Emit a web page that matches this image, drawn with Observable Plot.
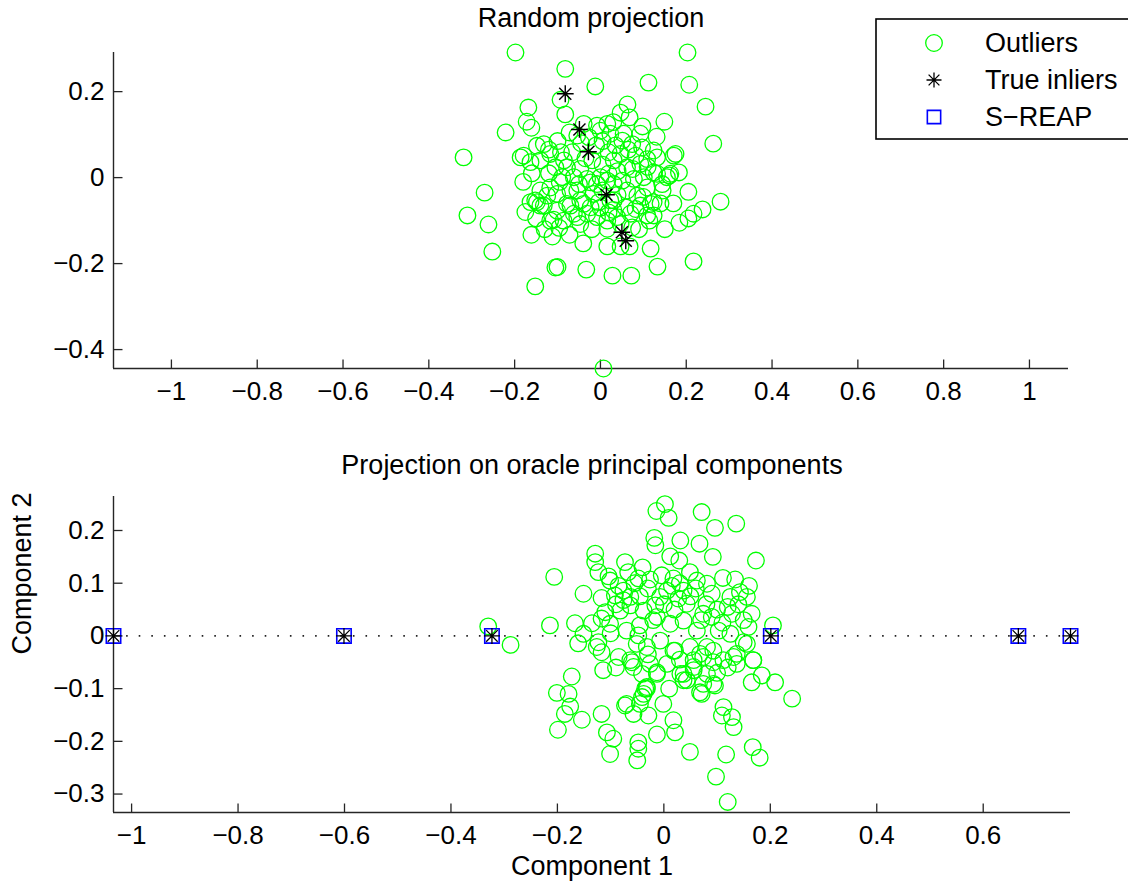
<!DOCTYPE html>
<html><head><meta charset="utf-8">
<script src="https://cdn.jsdelivr.net/npm/d3@7"></script>
<script src="https://cdn.jsdelivr.net/npm/@observablehq/plot@0.6"></script>
<style>
body{margin:0;background:#fff;}
#fig{position:relative;width:1128px;height:882px;overflow:hidden;background:#fff;font-family:"Liberation Sans",Arial,Helvetica,sans-serif;}
#fig svg{position:absolute;left:0;overflow:visible;}
</style></head><body><div id="fig"></div>
<script>
// ---------- Top panel: Random projection ----------
const topTitle = "Random projection";
const topXDomain = [-1.135, 1.091];
const topYDomain = [-0.444, 0.291];
const topXTicks = [-1, -0.8, -0.6, -0.4, -0.2, 0, 0.2, 0.4, 0.6, 0.8, 1];
const topYTicks = [-0.4, -0.2, 0, 0.2];
const topInliers = [[-0.082,0.195],[-0.049,0.112],[-0.028,0.060],[0.014,-0.040],[0.050,-0.127],[0.059,-0.147]];
const topOutliers = [
[-0.198,0.291],[0.203,0.291],[-0.082,0.253],[0.112,0.221],[0.207,0.216],[-0.012,0.212],[-0.093,0.181],[0.245,0.165],
[-0.168,0.163],[-0.082,0.147],[0.063,0.170],[0.047,0.151],[0.068,0.140],[0.149,0.130],[-0.172,0.130],[-0.161,0.116],
[-0.221,0.105],[0.098,0.119],[0.093,0.102],[0.131,0.095],[0.263,0.079],[-0.319,0.047],[-0.270,-0.035],[-0.310,-0.088],
[-0.261,-0.109],[-0.252,-0.172],[-0.161,-0.133],[-0.112,-0.137],[-0.072,-0.133],[-0.040,-0.153],[-0.105,-0.209],[-0.100,-0.208],
[-0.033,-0.214],[0.028,-0.228],[0.072,-0.228],[0.133,-0.207],[0.217,-0.195],[0.117,-0.165],[-0.152,-0.253],[0.007,-0.444],
[0.280,-0.056],[0.238,-0.074],[0.217,-0.084],[0.205,-0.095],[0.184,-0.105],[0.205,-0.033],[0.145,-0.030],[0.124,-0.088],
[0.114,-0.100],[0.016,-0.160],[0.047,-0.160],[0.068,-0.160],
[-0.039,0.125],[-0.008,0.121],[0.016,0.125],[0.030,0.129],[0.000,0.109],[-0.072,0.105],[-0.054,0.098],[-0.027,0.094],
[0.023,0.102],[0.054,0.102],[0.051,0.086],[0.074,0.078],[0.097,0.070],[0.124,0.063],[0.132,0.047],[0.175,0.055],
[0.109,0.043],[0.082,0.051],[0.019,0.059],[0.047,0.055],[-0.066,0.059],[-0.092,0.059],[-0.117,0.055],[-0.132,0.078],
[-0.148,0.074],[-0.179,0.051],[-0.186,0.047],[-0.163,0.036],[-0.120,0.065],[-0.140,0.040],[-0.105,0.024],[-0.078,0.024],
[-0.047,0.020],[-0.019,0.040],[0.031,0.040],[0.062,0.024],[0.093,0.032],[0.124,0.012],[0.163,0.009],[0.183,0.012],
[0.000,0.001],[0.019,0.009],[-0.008,-0.015],[0.031,-0.015],[0.051,-0.007],[0.078,-0.003],[0.101,0.001],[-0.031,-0.003],
[-0.062,0.001],[-0.089,0.001],[-0.117,-0.023],[-0.140,-0.030],[-0.152,-0.053],[-0.163,-0.057],[-0.132,-0.065],[-0.101,-0.038],
[-0.070,-0.030],[-0.047,-0.053],[-0.070,-0.065],[-0.016,-0.038],[-0.004,-0.057],[0.023,-0.053],[0.062,-0.030],[0.086,-0.042],
[0.109,-0.023],[0.144,-0.015],[0.155,0.001],[0.124,-0.057],[0.093,-0.065],[0.058,-0.069],[-0.101,-0.077],[-0.117,-0.100],
[-0.086,-0.100],[-0.054,-0.092],[-0.031,-0.084],[-0.008,-0.092],[0.016,-0.100],[0.039,-0.092],[0.070,-0.084],[0.109,-0.088],
[-0.023,-0.069],[-0.047,-0.108],[0.016,-0.119],[0.047,-0.108],[0.074,-0.116],
[0.117,-0.061],[0.082,-0.073],[0.019,-0.081],[-0.062,-0.084],[-0.078,-0.061],[-0.096,-0.117],[-0.109,-0.098],[-0.124,-0.042],
[-0.054,-0.030],[-0.039,-0.061],[0.031,-0.053],[0.016,-0.007],[-0.023,-0.011],[0.132,0.009],[0.161,0.005],[0.171,0.051],
[-0.148,-0.057],[-0.140,-0.065],
[-0.010,0.075],[0.005,0.085],[0.035,0.075],[0.065,0.065],[-0.045,0.080],[-0.100,0.085],[-0.085,0.040],[-0.035,0.045],
[0.005,0.030],[0.040,0.015],[0.075,0.020],[0.110,0.025],[-0.120,0.010],[-0.160,0.010],[-0.180,-0.010],[-0.095,-0.010],
[-0.050,-0.015],[0.005,-0.030],[0.040,-0.040],[0.100,-0.045],[0.140,-0.060],[-0.175,-0.080],[-0.150,-0.095],[-0.130,-0.120],
[0.000,-0.070],[0.030,-0.075],[-0.020,-0.120],[0.090,-0.120],[0.150,-0.120],[0.170,-0.060]
];

// ---------- Bottom panel: oracle principal components ----------
const botTitle = "Projection on oracle principal components";
const botXLabel = "Component 1";
const botYLabel = "Component 2";
const botXDomain = [-1.034, 0.764];
const botYDomain = [-0.335, 0.2645];
const botXTicks = [-1, -0.8, -0.6, -0.4, -0.2, 0, 0.2, 0.4, 0.6];
const botYTicks = [-0.3, -0.2, -0.1, 0, 0.1, 0.2];
const botSreap = [[-1.034,0],[-0.601,0],[-0.323,0],[0.201,0],[0.666,0],[0.764,0]];
const botInliers = [[-1.034,0],[-0.601,0],[-0.323,0],[0.201,0],[0.666,0],[0.764,0]];
const botOutliers = [
[0.002,0.250],[-0.014,0.237],[0.009,0.224],[0.071,0.235],[0.136,0.213],[0.096,0.205],[-0.018,0.186],[-0.016,0.172],
[0.031,0.181],[0.067,0.175],[0.092,0.150],[0.173,0.143],[0.012,0.151],[0.029,0.143],[-0.129,0.156],[-0.129,0.140],
[-0.073,0.140],[-0.206,0.112],[-0.123,0.121],[-0.104,0.113],[-0.067,0.121],[-0.101,0.105],[-0.048,0.109],[-0.151,0.080],
[-0.117,0.072],[-0.092,0.077],[-0.076,0.086],[-0.063,0.074],[-0.026,0.107],[-0.004,0.115],[0.018,0.109],[0.049,0.121],
[0.062,0.105],[0.081,0.099],[0.111,0.110],[0.134,0.107],[0.125,0.074],[0.143,0.083],[0.156,0.074],[0.090,0.036],
[0.074,0.042],[0.128,0.042],[0.165,0.042],[0.159,0.017],[0.205,0.020],[-0.214,0.020],[-0.167,0.024],[-0.135,0.024],
[-0.117,0.033],[-0.082,0.048],[-0.076,0.068],[-0.063,0.058],[-0.038,0.048],[-0.016,0.058],[-0.007,0.074],[0.006,0.086],
[0.027,0.071],[0.043,0.061],[0.037,0.086],[0.060,0.090],[-0.013,0.036],[0.012,0.023],[0.037,0.029],[0.062,0.010],
[0.103,0.010],[0.125,0.004],[-0.045,0.020],[-0.070,0.010],[-0.101,0.023],[-0.151,0.004],
[-0.030,0.090],[-0.045,0.075],[0.000,0.060],[0.020,0.050],[0.050,0.075],[0.080,0.060],[0.100,0.050],[-0.090,0.060],
[-0.110,0.045],[0.015,0.095],[-0.020,0.030],[0.070,0.030],[0.110,0.025],[0.140,0.060],[0.160,0.095],[-0.330,0.018],
[-0.161,-0.014],[-0.126,-0.021],[-0.117,-0.031],[-0.114,-0.065],[-0.173,-0.077],[-0.085,-0.040],[-0.060,-0.050],[-0.048,0.001],
[-0.041,-0.072],[-0.013,-0.069],[0.006,-0.053],[0.021,-0.028],[0.056,-0.046],[0.068,-0.034],[0.081,-0.021],[0.093,-0.050],
[0.037,-0.072],[0.074,-0.091],[0.096,-0.094],[0.071,-0.110],[0.137,-0.034],[0.156,-0.015],[0.168,-0.046],[0.184,-0.075],
[0.165,-0.088],[0.209,-0.088],[0.241,-0.119],[-0.035,-0.100],[-0.045,-0.129],[-0.073,-0.132],[-0.057,-0.148],[-0.029,-0.151],
[-0.001,-0.129],[-0.117,-0.148],[-0.107,-0.183],[-0.095,-0.195],[-0.101,-0.224],[-0.048,-0.202],[-0.048,-0.214],[-0.050,-0.236],
[-0.013,-0.187],[0.018,-0.160],[0.021,-0.183],[0.049,-0.220],[0.112,-0.135],[0.109,-0.151],[0.128,-0.154],[0.131,-0.173],
[0.117,-0.225],[0.167,-0.211],[0.180,-0.231],[0.098,-0.267],[0.120,-0.315],[-0.154,-0.159],[-0.288,-0.017],[-0.201,-0.108],
[-0.179,-0.110],[-0.176,-0.134],[-0.186,-0.148],[-0.199,-0.178],[-0.070,-0.129],[-0.041,-0.116],[-0.032,-0.100],[0.056,-0.065],
[0.068,-0.107],[0.037,-0.084],[-0.123,-0.012],[-0.051,-0.015],[-0.032,-0.021],[-0.007,-0.009],[0.018,-0.028],[0.049,-0.021],
[0.074,-0.040],[0.093,-0.028],[0.112,-0.046],[0.131,-0.040],[0.137,-0.053],[0.056,-0.059],[0.031,-0.072],[0.043,-0.084],
[0.081,-0.072],[0.093,-0.091],[-0.026,-0.053],[-0.013,-0.072],[-0.032,-0.097],[-0.038,-0.110],[-0.063,-0.046],[-0.057,-0.059],
[0.168,-0.046],[0.150,-0.012],
[-0.085,0.095],[-0.055,0.100],[0.030,0.100],[0.090,0.080],[0.120,0.055],[-0.100,0.005],[-0.030,-0.035],[0.030,-0.045],
[0.100,-0.070],[0.120,-0.060],[-0.090,-0.060],[0.010,-0.100],[0.150,0.030],[-0.040,0.130]
];

const legendLabels = ["Outliers", "True inliers", "S\u2212REAP"];

// ---------- styles ----------
const GREEN = "#00ff00", BLUE = "#0000ff", AXIS = "#262626";
const FONT = "'Liberation Sans', Arial, Helvetica, sans-serif";
const fmt = d => (d < 0 ? "\u2212" : "") + String(Math.abs(d));

const asteriskSym = {draw(ctx, size) {
  const r = Math.sqrt(size / Math.PI), d = r * 0.72;
  ctx.moveTo(-r, 0); ctx.lineTo(r, 0); ctx.moveTo(0, -r); ctx.lineTo(0, r);
  ctx.moveTo(-d, -d); ctx.lineTo(d, d); ctx.moveTo(-d, d); ctx.lineTo(d, -d);
}};
const squareSym = {draw(ctx, size) {
  const h = Math.sqrt(size / Math.PI) * 0.9;
  ctx.moveTo(-h, -h); ctx.lineTo(h, -h); ctx.lineTo(h, h); ctx.lineTo(-h, h); ctx.closePath();
}};
const tickUp = {draw(ctx) { ctx.moveTo(0, 0); ctx.lineTo(0, -9); }};
const tickRight = {draw(ctx) { ctx.moveTo(0, 0); ctx.lineTo(9, 0); }};

const fig = document.getElementById("fig");

function axesMarks(xDom, yDom, xTicks, yTicks) {
  return [
    Plot.ruleY([yDom[0]], {stroke: AXIS, strokeWidth: 1.4}),
    Plot.ruleX([xDom[0]], {stroke: AXIS, strokeWidth: 1.4}),
    Plot.dot(xTicks, {x: d => d, y: () => yDom[0], symbol: tickUp, r: 1, stroke: AXIS, fill: "none", strokeWidth: 1.3}),
    Plot.dot(yTicks, {x: () => xDom[0], y: d => d, symbol: tickRight, r: 1, stroke: AXIS, fill: "none", strokeWidth: 1.3}),
    Plot.axisX({ticks: xTicks, tickSize: 0, tickPadding: 13, tickFormat: fmt, fontSize: 26, fill: "black"}),
    Plot.axisY({ticks: yTicks, tickSize: 0, tickPadding: 9, tickFormat: fmt, fontSize: 26, fill: "black"})
  ];
}

// Top plot: frame x 113..1068, y 52..368
const topPlot = Plot.plot({
  width: 1128, height: 430,
  marginLeft: 113, marginRight: 60, marginTop: 52, marginBottom: 62,
  x: {domain: topXDomain}, y: {domain: topYDomain},
  style: {fontFamily: FONT, fontSize: "26px", background: "transparent", color: "black"},
  marks: [
    ...axesMarks(topXDomain, topYDomain, topXTicks, topYTicks),
    Plot.dot(topOutliers, {x: d => d[0], y: d => d[1], r: 8.3, stroke: GREEN, fill: "none", strokeWidth: 1.3}),
    Plot.dot(topInliers, {x: d => d[0], y: d => d[1], r: 8.4, symbol: asteriskSym, stroke: "black", fill: "none", strokeWidth: 1.4}),
    Plot.text([topTitle], {frameAnchor: "top", dy: -34, lineAnchor: "middle", fontSize: 27, fill: "black"})
  ]
});
topPlot.style.top = "0px";
fig.appendChild(topPlot);

// Bottom plot: frame x 113..1070, y 496..812 (svg starts at 440)
const botPlot = Plot.plot({
  width: 1128, height: 442,
  marginLeft: 113, marginRight: 58, marginTop: 56, marginBottom: 70,
  x: {domain: botXDomain}, y: {domain: botYDomain},
  style: {fontFamily: FONT, fontSize: "26px", background: "transparent", color: "black"},
  marks: [
    ...axesMarks(botXDomain, botYDomain, botXTicks, botYTicks),
    Plot.line(botSreap, {x: d => d[0], y: d => d[1], stroke: "#222", strokeWidth: 1.6, strokeDasharray: "1.6 11", strokeLinecap: "butt"}),
    Plot.dot(botOutliers, {x: d => d[0], y: d => d[1], r: 8.3, stroke: GREEN, fill: "none", strokeWidth: 1.3}),
    Plot.dot(botSreap, {x: d => d[0], y: d => d[1], r: 8, symbol: squareSym, stroke: BLUE, fill: "none", strokeWidth: 1.6}),
    Plot.dot(botInliers, {x: d => d[0], y: d => d[1], r: 8, symbol: asteriskSym, stroke: "black", fill: "none", strokeWidth: 1.3}),
    Plot.text([botTitle], {frameAnchor: "top", dy: -31, lineAnchor: "middle", fontSize: 27, fill: "black"}),
    Plot.text([botXLabel], {frameAnchor: "bottom", dy: 54, lineAnchor: "middle", fontSize: 27, fill: "black"}),
    Plot.text([botYLabel], {frameAnchor: "left", dx: -91, rotate: -90, lineAnchor: "middle", fontSize: 27, fill: "black"})
  ]
});
botPlot.style.top = "440px";
fig.appendChild(botPlot);

// Legend (inside top axes, upper right)
const leg = d3.create("svg").attr("width", 1128).attr("height", 160).style("top", "0px");
leg.append("rect").attr("x", 876).attr("y", 19).attr("width", 300).attr("height", 120)
  .attr("fill", "white").attr("stroke", "black").attr("stroke-width", 1.6);
const rowY = [43, 80, 117];
const symPaths = [
  {sym: d3.symbolCircle, size: Math.PI * 8.3 * 8.3, stroke: GREEN, w: 1.3},
  {sym: asteriskSym, size: Math.PI * 7.5 * 7.5, stroke: "black", w: 1.3},
  {sym: squareSym, size: Math.PI * 7.4 * 7.4, stroke: BLUE, w: 1.6}
];
legendLabels.forEach((lab, i) => {
  const g = leg.append("g").attr("transform", `translate(0,${rowY[i]})`);
  g.append("path").attr("transform", "translate(934,0)").attr("d", d3.symbol(symPaths[i].sym, symPaths[i].size)())
    .attr("fill", "none").attr("stroke", symPaths[i].stroke).attr("stroke-width", symPaths[i].w);
  g.append("text").attr("x", 985).attr("y", 0).attr("dy", "0.35em").attr("font-family", FONT)
    .attr("font-size", 27).attr("fill", "black").text(lab);
});
fig.appendChild(leg.node());
</script></body></html>
